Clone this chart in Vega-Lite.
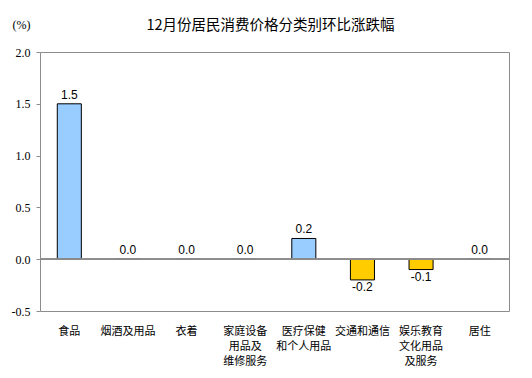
{
  "$schema": "https://vega.github.io/schema/vega-lite/v6.json",
  "autosize": "none",
  "width": 469,
  "height": 259,
  "padding": {"left": 40, "top": 52, "right": 23, "bottom": 67},
  "background": "white",
  "title": {
    "text": "12月份居民消费价格分类别环比涨跌幅",
    "anchor": "middle",
    "frame": "group",
    "dx": -4,
    "offset": 0,
    "dy": 15,
    "font": "Noto Sans CJK SC",
    "fontSize": 14.5,
    "fontWeight": "normal",
    "color": "#000"
  },
  "config": {
    "view": {"stroke": "#8c8c8c", "strokeWidth": 1}
  },
  "data": {
    "values": [
      {"cat": "食品", "v": 1.5},
      {"cat": "烟酒及用品", "v": 0.0},
      {"cat": "衣着", "v": 0.0},
      {"cat": "家庭设备|用品及|维修服务", "v": 0.0},
      {"cat": "医疗保健|和个人用品", "v": 0.2},
      {"cat": "交通和通信", "v": -0.2},
      {"cat": "娱乐教育|文化用品|及服务", "v": -0.1},
      {"cat": "居住", "v": 0.0}
    ]
  },
  "transform": [
    {"calculate": "datum.v < 0 ? '-' + format(-datum.v, '.1f') : format(datum.v, '.1f')", "as": "lab"}
  ],
  "encoding": {
    "x": {
      "field": "cat",
      "type": "nominal",
      "sort": null,
      "scale": {"paddingInner": 0.59, "paddingOuter": 0.295},
      "axis": {
        "title": null,
        "labelAngle": 0,
        "domain": false,
        "ticks": false,
        "labelPadding": 14,
        "labelExpr": "split(datum.value, '|')",
        "labelFont": "Noto Sans CJK SC",
        "labelFontSize": 11,
        "labelLineHeight": 15,
        "labelColor": "#000",
        "labelBaseline": "top"
      }
    }
  },
  "layer": [
    {
      "mark": {"type": "bar", "stroke": "#000", "strokeWidth": 1},
      "encoding": {
        "y": {
          "field": "v",
          "type": "quantitative",
          "scale": {"domain": [-0.5, 2.0], "nice": false},
          "axis": {
            "values": [-0.5, 0, 0.5, 1.0, 1.5, 2.0],
            "labelExpr": "datum.value < 0 ? '-' + format(-datum.value, '.1f') : format(datum.value, '.1f')",
            "grid": false,
            "domain": false,
            "ticks": true,
            "tickSize": 4,
            "tickColor": "#8c8c8c",
            "labelFont": "Liberation Serif",
            "labelFontSize": 12,
            "labelColor": "#000",
            "labelPadding": 6,
            "title": "(%)",
            "titleAngle": 0,
            "titleFont": "Liberation Serif",
            "titleFontSize": 12,
            "titleFontWeight": "normal",
            "titleX": -28,
            "titleY": -24,
            "titleAlign": "left",
            "titleBaseline": "alphabetic",
            "titleColor": "#000"
          }
        },
        "color": {
          "condition": {"test": "datum.v < 0", "value": "#FFCC00"},
          "value": "#99CCFF"
        }
      }
    },
    {
      "mark": {"type": "rule", "color": "#8c8c8c", "strokeWidth": 1},
      "encoding": {"y": {"datum": 0, "type": "quantitative"}, "x": {"value": 0}, "x2": {"value": 469}}
    },
    {
      "transform": [{"filter": "datum.v >= 0"}],
      "mark": {"type": "text", "baseline": "bottom", "dy": -2, "font": "Liberation Sans", "fontSize": 12, "color": "#000"},
      "encoding": {
        "y": {"field": "v", "type": "quantitative"},
        "text": {"field": "lab", "type": "nominal"}
      }
    },
    {
      "transform": [{"filter": "datum.v < 0"}],
      "mark": {"type": "text", "baseline": "top", "dy": 2, "font": "Liberation Sans", "fontSize": 12, "color": "#000"},
      "encoding": {
        "y": {"field": "v", "type": "quantitative"},
        "text": {"field": "lab", "type": "nominal"}
      }
    }
  ]
}
